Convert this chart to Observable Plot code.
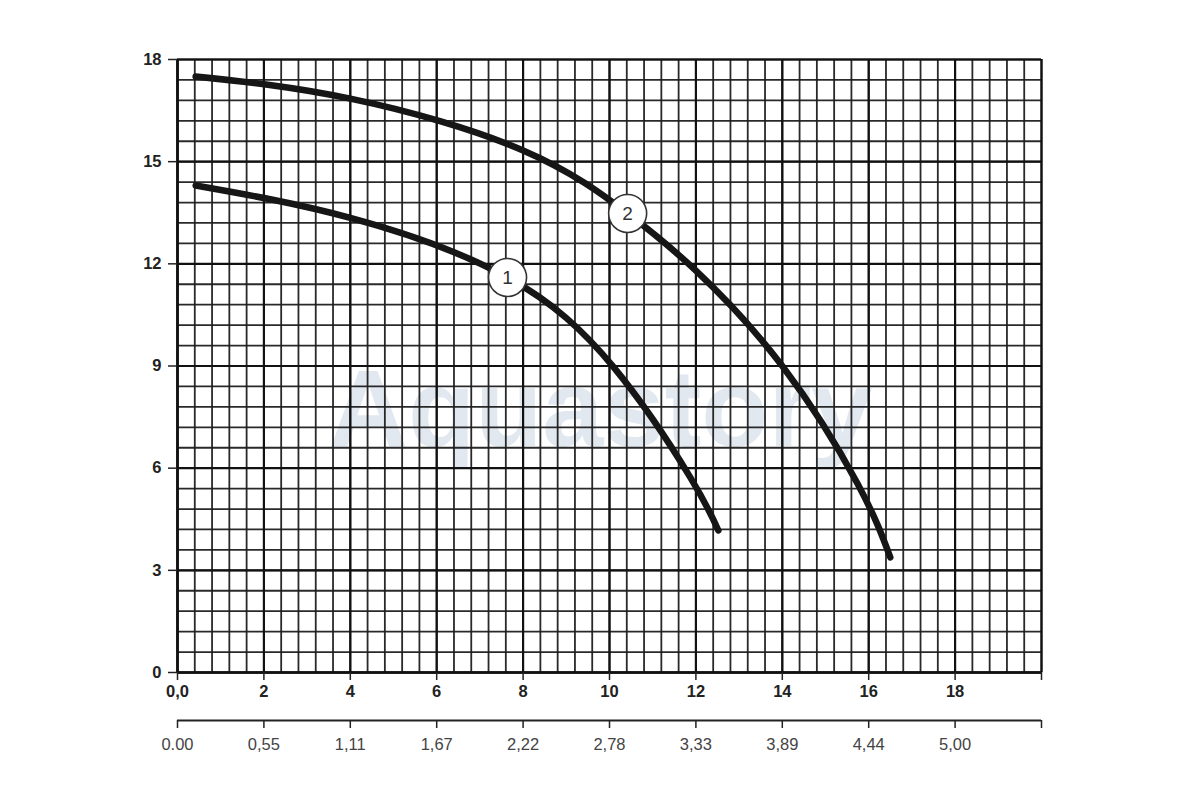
<!DOCTYPE html>
<html>
<head>
<meta charset="utf-8">
<script src="https://cdn.jsdelivr.net/npm/d3@7"></script>
<script src="https://cdn.jsdelivr.net/npm/@observablehq/plot@0.6"></script>
<style>
  html, body { margin: 0; padding: 0; background: #fff; }
  #chart svg { display: block; font-family: "Liberation Sans", Arial, sans-serif; }
</style>
</head>
<body>
<div id="chart"></div>
<script>
// Curve 1
const curve1X = [0.42, 4, 7.64, 10.1, 11.87, 12.52];
const curve1Y = [14.3, 13.35, 11.6, 8.96, 5.73, 4.17];
// Curve 2
const curve2X = [0.42, 4, 8, 10.42, 12, 14, 15.74, 16.5];
const curve2Y = [17.5, 16.85, 15.33, 13.48, 11.8, 9.0, 5.55, 3.38];
// Curve labels (circle markers)
const labelNames = ["1", "2"];
const labelX = [7.64, 10.42];
const labelY = [11.6, 13.48];
// Axis ticks
const yTicks = [0, 3, 6, 9, 12, 15, 18];
const xTicks = [0, 2, 4, 6, 8, 10, 12, 14, 16, 18, 20];
const xTickLabels = ["0,0", "2", "4", "6", "8", "10", "12", "14", "16", "18", ""];
const x2TickLabels = ["0.00", "0,55", "1,11", "1,67", "2,22", "2,78", "3,33", "3,89", "4,44", "5,00", ""];
const watermark = "Aquastory";

const series = [
  ...curve1X.map((x, i) => ({curve: "1", x, y: curve1Y[i]})),
  ...curve2X.map((x, i) => ({curve: "2", x, y: curve2Y[i]}))
];
const labels = labelNames.map((name, i) => ({name, x: labelX[i], y: labelY[i]}));

const gridXMinor = d3.range(0, 20.001, 0.4);
const gridYMinor = d3.range(0, 18.001, 0.6);

const xLabelMap = new Map(xTicks.map((t, i) => [t, xTickLabels[i]]));
const x2LabelMap = new Map(xTicks.map((t, i) => [t, x2TickLabels[i]]));

const plot = Plot.plot({
  width: 1200,
  height: 800,
  marginLeft: 177,
  marginRight: 159,
  marginTop: 59,
  marginBottom: 128,
  x: {domain: [0, 20], axis: null},
  y: {domain: [0, 18], axis: null},
  style: {fontFamily: "Liberation Sans, Arial, sans-serif", background: "#fff"},
  marks: [
    Plot.text([watermark], {
      frameAnchor: "middle", dx: -9, dy: 45,
      fontSize: 110, fontWeight: "bold", fill: "#e2e8f0", lineAnchor: "middle"
    }),
    Plot.gridX({ticks: gridXMinor, stroke: "#1e1e1e", strokeOpacity: 0.95, strokeWidth: 1.8}),
    Plot.gridY({ticks: gridYMinor, stroke: "#1e1e1e", strokeOpacity: 0.95, strokeWidth: 1.8}),
    Plot.gridX({ticks: xTicks, stroke: "#111", strokeOpacity: 1, strokeWidth: 2.2}),
    Plot.gridY({ticks: yTicks, stroke: "#111", strokeOpacity: 1, strokeWidth: 2.2}),
    Plot.ruleY([0], {stroke: "#111", strokeWidth: 2.6}),
    Plot.ruleX([0], {stroke: "#111", strokeWidth: 2.6}),
    Plot.axisY({
      ticks: yTicks, tickSize: 9, tickPadding: 7, fontSize: 16.5, fontWeight: "bold", label: null,
      fill: "#222", stroke: "#222", strokeWidth: 1.5, tickFormat: d => String(d)
    }),
    Plot.axisX({
      ticks: xTicks, tickSize: 8, tickPadding: 5, fontSize: 16.5, fontWeight: "bold", label: null,
      fill: "#222", stroke: "#222", strokeWidth: 1.5, tickFormat: d => xLabelMap.get(d)
    }),
    Plot.ruleY([0], {x1: 0, x2: 20, dy: 48, stroke: "#222", strokeWidth: 2}),
    Plot.axisX({
      ticks: xTicks, tickSize: 8, tickPadding: 10, fontSize: 16.5, fontWeight: "normal", label: null,
      fill: "#444", stroke: "#222", strokeWidth: 1.5, dy: 48, tickFormat: d => x2LabelMap.get(d)
    }),
    Plot.line(series, {
      x: "x", y: "y", z: "curve", curve: "natural",
      stroke: "#161616", strokeWidth: 6.5, strokeLinecap: "round"
    }),
    Plot.dot(labels, {x: "x", y: "y", r: 19, fill: "#fff", stroke: "#333", strokeWidth: 1.6}),
    Plot.text(labels, {x: "x", y: "y", text: "name", fontSize: 19, fill: "#333"})
  ]
});
document.getElementById("chart").appendChild(plot);
</script>
</body>
</html>
